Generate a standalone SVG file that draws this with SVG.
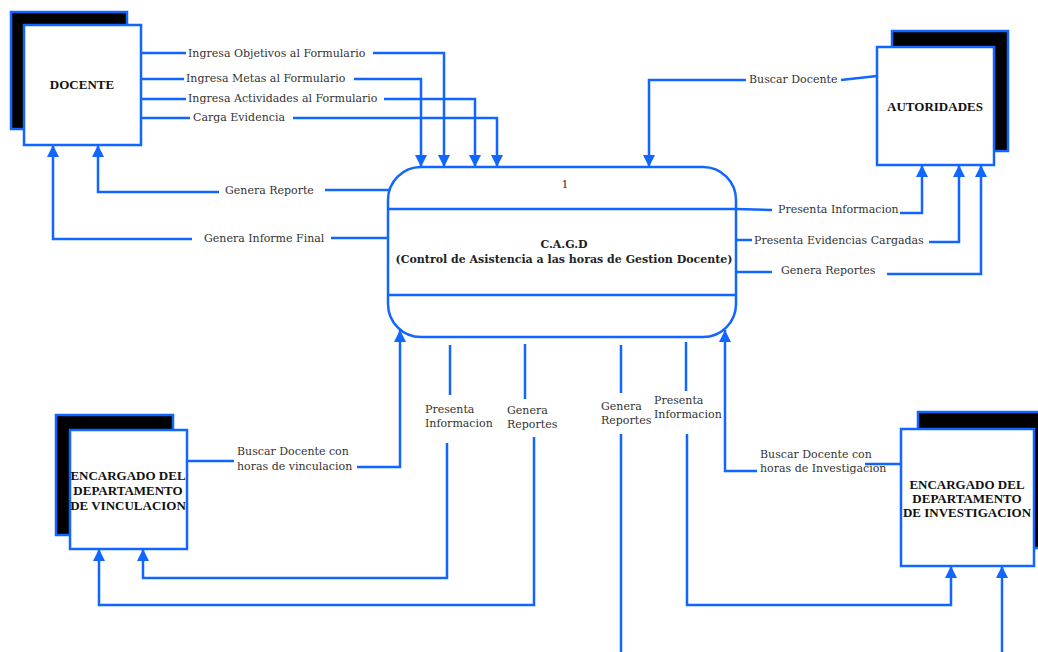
<svg xmlns="http://www.w3.org/2000/svg" width="1038" height="652" viewBox="0 0 1038 652">
<defs>
<marker id="ah" markerUnits="userSpaceOnUse" markerWidth="12" markerHeight="12" viewBox="0 0 12 12" refX="12" refY="6" orient="auto">
<path d="M0,0 L12,6 L0,12 z" fill="#1166ff"/>
</marker>
<style>
.ln{fill:none;stroke:#1166ff;stroke-width:2.5}
.ar{fill:none;stroke:#1166ff;stroke-width:2.5;marker-end:url(#ah)}
.box{fill:#fff;stroke:#1166ff;stroke-width:2.5}
.sh{fill:#000;stroke:#1166ff;stroke-width:2.5}
.lb{font-family:"DejaVu Serif","Liberation Serif",serif;font-size:11px;fill:#333}
.nt{font-family:"Liberation Serif",serif;font-size:13px;font-weight:bold;fill:#111;text-anchor:middle}
.pt{font-family:"DejaVu Serif","Liberation Serif",serif;font-size:11px;font-weight:bold;fill:#222;text-anchor:middle}
</style>
</defs>
<rect width="1038" height="652" fill="#fff"/>

<g id="docente">
<rect class="sh" x="11" y="12" width="116" height="117"/>
<rect class="box" x="24" y="25" width="117" height="120"/>
<text class="nt" x="82" y="89">DOCENTE</text>
</g>

<g id="autoridades">
<rect class="sh" x="892" y="31" width="116" height="120"/>
<rect class="box" x="877" y="47" width="117" height="118"/>
<text class="nt" x="935" y="111">AUTORIDADES</text>
</g>

<g id="vinculacion">
<rect class="sh" x="56" y="415" width="117" height="120"/>
<rect class="box" x="70" y="430" width="117" height="119"/>
<text class="nt" x="128" y="480">ENCARGADO DEL</text>
<text class="nt" x="128" y="495">DEPARTAMENTO</text>
<text class="nt" x="128" y="510">DE VINCULACION</text>
</g>

<g id="investigacion">
<rect class="sh" x="918" y="412" width="134" height="136"/>
<rect class="box" x="901" y="429" width="133" height="137"/>
<text class="nt" x="967" y="489">ENCARGADO DEL</text>
<text class="nt" x="967" y="503">DEPARTAMENTO</text>
<text class="nt" x="967" y="517">DE INVESTIGACION</text>
</g>

<g id="proceso">
<rect class="box" x="388" y="167" width="348" height="170" rx="33" ry="33"/>
<line class="ln" x1="388" y1="209" x2="736" y2="209"/>
<line class="ln" x1="388" y1="295" x2="736" y2="295"/>
<text class="lb" x="565" y="188" text-anchor="middle">1</text>
<text class="pt" x="564" y="248">C.A.G.D</text>
<text class="pt" x="564" y="263">(Control de Asistencia a las horas de Gestion Docente)</text>
</g>

<g id="connectors">
<polyline class="ln" points="141,53 186,53"/>
<polyline class="ar" points="373,53 444,53 444,167"/>
<text class="lb" x="188" y="57">Ingresa Objetivos al Formulario</text>

<polyline class="ln" points="141,79 184,79"/>
<polyline class="ar" points="354,79 421,79 421,167"/>
<text class="lb" x="186" y="82">Ingresa Metas al Formulario</text>

<polyline class="ln" points="141,99 186,99"/>
<polyline class="ar" points="384,99 475,99 475,167"/>
<text class="lb" x="188" y="102">Ingresa Actividades al Formulario</text>

<polyline class="ln" points="141,118 190,118"/>
<polyline class="ar" points="293,118 497,118 497,167"/>
<text class="lb" x="193" y="121">Carga Evidencia</text>

<polyline class="ln" points="390,190 325,190"/>
<polyline class="ar" points="219,192 98,192 98,145"/>
<text class="lb" x="225" y="194">Genera Reporte</text>

<polyline class="ln" points="388,238 331,238"/>
<polyline class="ar" points="192,239 53,239 53,145"/>
<text class="lb" x="204" y="242">Genera Informe Final</text>

<polyline class="ln" points="877,76 841,80"/>
<polyline class="ar" points="746,80 649,80 649,167"/>
<text class="lb" x="749" y="83">Buscar Docente</text>

<polyline class="ln" points="736,209 772,210"/>
<polyline class="ar" points="900,213 922,213 922,165"/>
<text class="lb" x="778" y="213">Presenta Informacion</text>

<polyline class="ln" points="736,240 752,240"/>
<polyline class="ar" points="929,242 959,242 959,165"/>
<text class="lb" x="754" y="244">Presenta Evidencias Cargadas</text>

<polyline class="ln" points="736,272 772,272"/>
<polyline class="ar" points="887,274 981,274 981,165"/>
<text class="lb" x="781" y="274">Genera Reportes</text>

<polyline class="ln" points="187,461 234,461"/>
<polyline class="ar" points="357,467 400,467 400,330"/>
<text class="lb" x="237" y="455">Buscar Docente con</text>
<text class="lb" x="237" y="470">horas de vinculacion</text>

<polyline class="ln" points="450,345 450,395"/>
<polyline class="ar" points="447,443 447,578 143,578 143,549"/>
<text class="lb" x="425" y="413">Presenta</text>
<text class="lb" x="425" y="427">Informacion</text>

<polyline class="ln" points="525,344 525,399"/>
<polyline class="ar" points="534,437 534,605 99,605 99,549"/>
<text class="lb" x="507" y="414">Genera</text>
<text class="lb" x="507" y="428">Reportes</text>

<polyline class="ln" points="621,345 621,393"/>
<polyline class="ln" points="621,434 621,652"/>
<text class="lb" x="601" y="410">Genera</text>
<text class="lb" x="601" y="424">Reportes</text>

<polyline class="ln" points="686,342 686,391"/>
<polyline class="ar" points="687,434 687,605 951,605 951,566"/>
<text class="lb" x="654" y="404">Presenta</text>
<text class="lb" x="654" y="418">Informacion</text>

<polyline class="ln" points="901,464 865,464"/>
<polyline class="ar" points="757,471 725,471 725,330"/>
<text class="lb" x="760" y="458">Buscar Docente con</text>
<text class="lb" x="760" y="472">horas de Investigacion</text>

<polyline class="ar" points="1002,652 1002,566"/>
</g>
</svg>
